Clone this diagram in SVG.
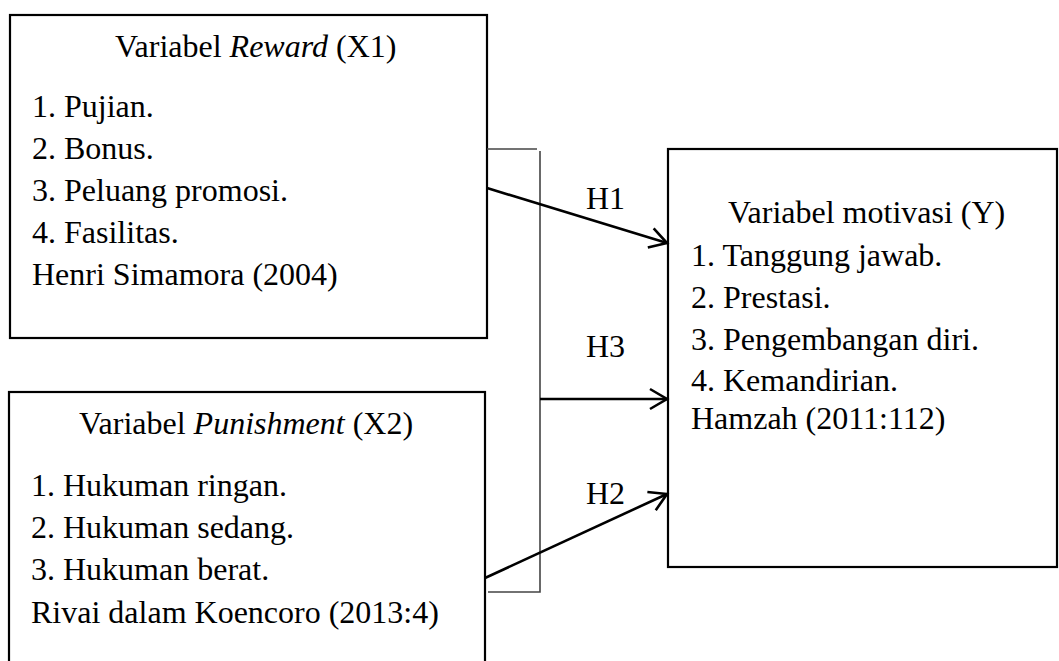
<svg xmlns="http://www.w3.org/2000/svg" width="1059" height="661" viewBox="0 0 1059 661">
<style>
.box{fill:#fff;stroke:#000;stroke-width:2.2}
.t{font-family:"Liberation Serif","Times New Roman",serif;font-size:32px;fill:#000}
.br{fill:none;stroke:#444;stroke-width:1.6}
.ar{fill:none;stroke:#000;stroke-width:2.6;marker-end:url(#v)}
</style>
<defs>
<marker id="v" markerUnits="userSpaceOnUse" markerWidth="30" markerHeight="30" refX="0" refY="0" viewBox="-20 -15 30 30" orient="auto" overflow="visible">
<path d="M-17,-10 L0,0 L-17,10" fill="none" stroke="#000" stroke-width="2.6"/>
</marker>
</defs>
<rect width="1059" height="661" fill="#fff"/>
<g id="x1">
<rect class="box" x="10" y="15" width="477" height="323"/>
<text class="t" x="115" y="57">Variabel <tspan font-style="italic">Reward</tspan> (X1)</text>
<text class="t" x="32" y="117">1. Pujian.</text>
<text class="t" x="32" y="159">2. Bonus.</text>
<text class="t" x="32" y="201">3. Peluang promosi.</text>
<text class="t" x="32" y="243">4. Fasilitas.</text>
<text class="t" x="32" y="285">Henri Simamora (2004)</text>
</g>
<g id="x2">
<rect class="box" x="9" y="392" width="476" height="280"/>
<text class="t" x="79" y="434">Variabel <tspan font-style="italic">Punishment</tspan> (X2)</text>
<text class="t" x="31" y="496">1. Hukuman ringan.</text>
<text class="t" x="31" y="538">2. Hukuman sedang.</text>
<text class="t" x="31" y="580">3. Hukuman berat.</text>
<text class="t" x="31" y="623">Rivai dalam Koencoro (2013:4)</text>
</g>
<g id="y">
<rect class="box" x="668" y="149" width="389" height="418"/>
<text class="t" x="728" y="223">Variabel motivasi (Y)</text>
<text class="t" x="691" y="266">1. Tanggung jawab.</text>
<text class="t" x="691" y="308">2. Prestasi.</text>
<text class="t" x="691" y="350">3. Pengembangan diri.</text>
<text class="t" x="691" y="391">4. Kemandirian.</text>
<text class="t" x="691" y="429">Hamzah (2011:112)</text>
</g>
<g id="connectors">
<path class="br" d="M487,149 H537"/>
<path class="br" d="M540,151 V592 H488"/>
<path class="ar" d="M487,188 L667,243"/>
<path class="ar" d="M540,399 L667,399"/>
<path class="ar" d="M485,578 L667,494"/>
<text class="t" x="586" y="209">H1</text>
<text class="t" x="586" y="357">H3</text>
<text class="t" x="586" y="504">H2</text>
</g>
</svg>
